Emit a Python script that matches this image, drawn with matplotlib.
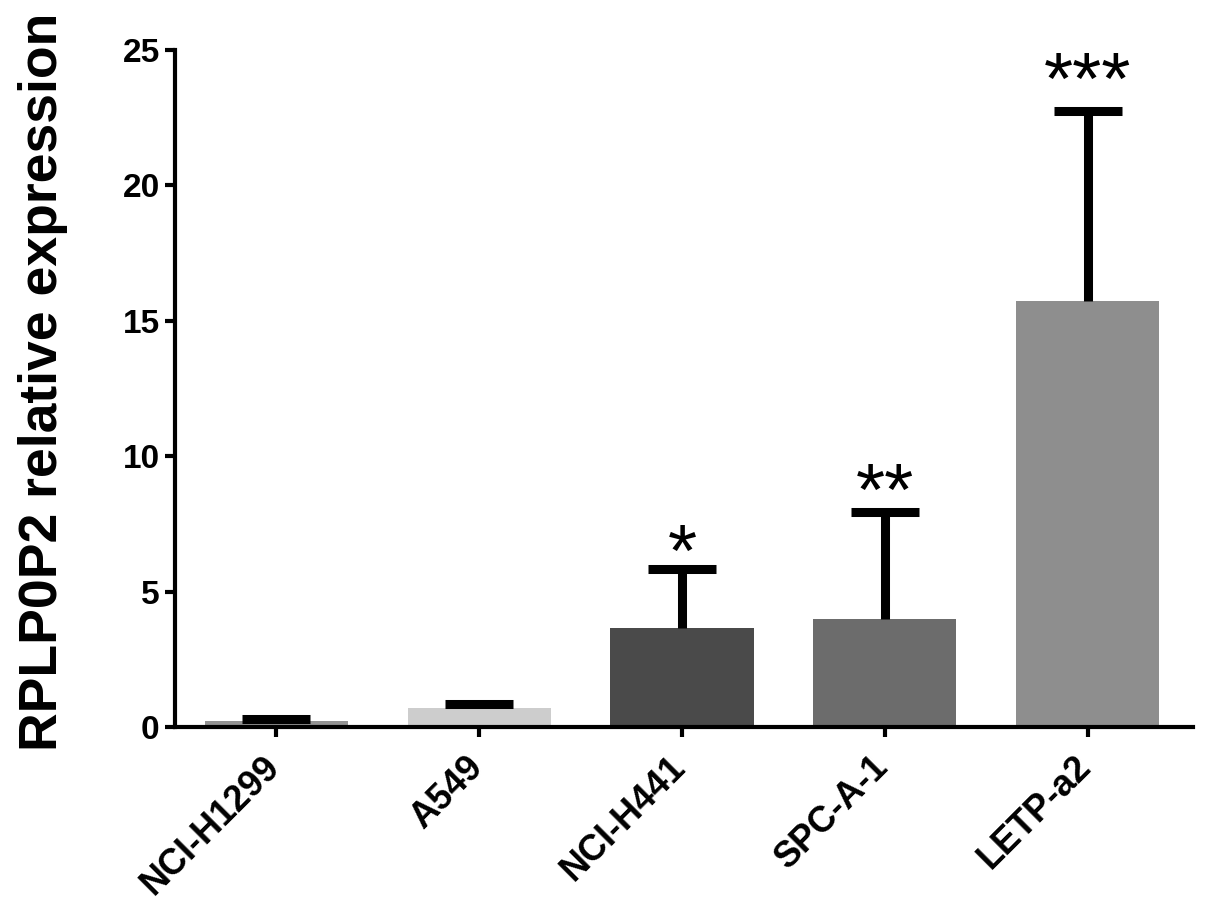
import matplotlib
matplotlib.use("Agg")
import matplotlib.pyplot as plt

# values
cell_lines = ["NCI-H1299", "A549", "NCI-H441", "SPC-A-1", "LETP-a2"]
means = [0.22, 0.70, 3.67, 3.98, 15.72]
sd_upper = [0.06, 0.15, 2.18, 3.96, 7.03]
bar_colors = ["#939393", "#cdcdcd", "#4a4a4a", "#6c6c6c", "#8e8e8e"]
stars = ["", "", "*", "**", "***"]
star_y = [0, 0, 6.85, 9.1, 24.3]   # centre of the asterisks
yticks = [0, 5, 10, 15, 20, 25]

plt.rcParams['font.family'] = ['Liberation Sans', 'DejaVu Sans']

fig = plt.figure(figsize=(12.05, 9.08), dpi=100)
ax = fig.add_axes([0.1452, 0.1993, 0.8448, 0.7457])

x = list(range(len(cell_lines)))
ax.bar(x, means, width=0.706, color=bar_colors, zorder=2)

eb = ax.errorbar(x, means, yerr=[[0] * len(means), sd_upper], fmt='none',
                 ecolor='black', elinewidth=6.5, capsize=24.5, capthick=6.5,
                 zorder=3)
# only the upper caps are drawn
eb[1][0].set_visible(False)

for xi, s, sy in zip(x, stars, star_y):
    if s:
        ax.annotate(s, (xi, sy), xytext=(0, -25), textcoords='offset points',
                    ha='center', va='baseline', fontsize=54)

ax.set_xlim(-0.5, 4.52)
ax.set_ylim(0, 25)
ax.set_yticks(yticks)
ax.set_yticklabels([str(v) for v in yticks], fontsize=24, fontweight='bold')
ax.set_xticks(x)
ax.set_xticklabels([])
# rotated category labels, drawn by hand so they can be nudged left
for xi, name in zip(x, cell_lines):
    ax.annotate(name, (xi, 0), xycoords=('data', 'axes fraction'),
                xytext=(-10, -16), textcoords='offset points',
                rotation=45, ha='right', va='top', rotation_mode='anchor',
                fontsize=26, fontweight='bold', annotation_clip=False)

for side in ['top', 'right']:
    ax.spines[side].set_visible(False)
for side in ['left', 'bottom']:
    ax.spines[side].set_linewidth(3)

ax.tick_params(axis='both', width=3, length=7, direction='out')
ax.tick_params(axis='y', pad=4)

ax.set_ylabel("RPLP0P2 relative expression", fontsize=38.5, fontweight='bold')
ax.yaxis.set_label_coords(-0.105, 0.51)

fig.savefig("out.png", dpi=100)
